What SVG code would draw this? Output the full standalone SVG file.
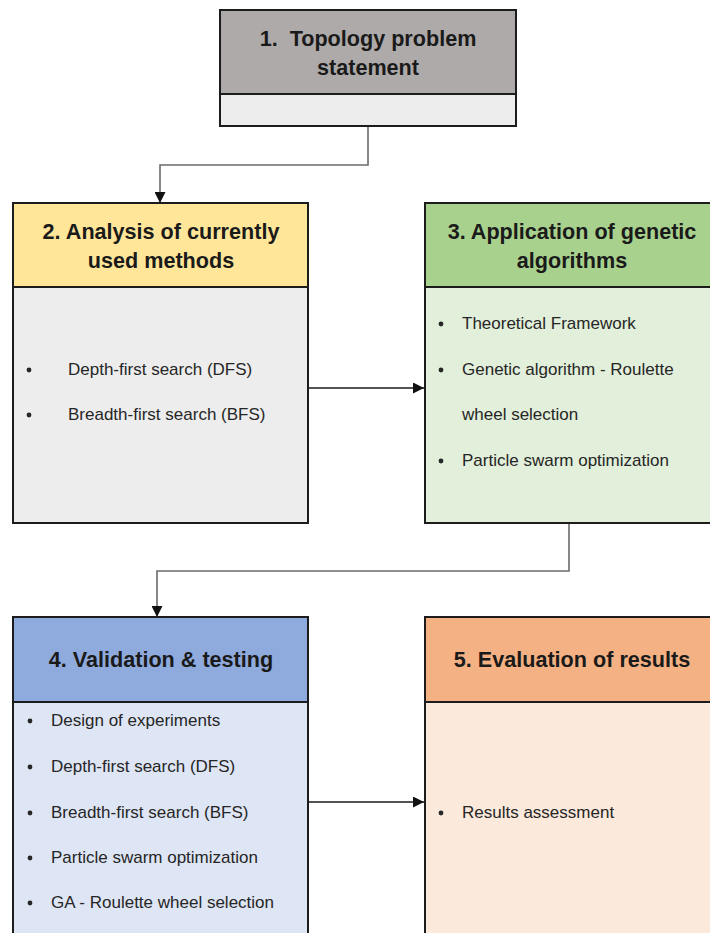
<svg xmlns="http://www.w3.org/2000/svg" width="710" height="933" viewBox="0 0 710 933">
  <defs>
    <style>
      .box { stroke: #1c1c1c; stroke-width: 2; }
      .title { font-family: "Liberation Sans", Arial, sans-serif; font-weight: bold; font-size: 21.6px; fill: #1a1a1a; text-anchor: middle; }
      .item { font-family: "Liberation Sans", Arial, sans-serif; font-size: 17px; fill: #262626; }
      .dot { fill: #262626; }
      .link { fill: none; stroke-width: 1.6; }
      .grey { stroke: #6b6b6b; }
      .dark { stroke: #1a1a1a; }
    </style>
    <marker id="arrow" viewBox="0 0 10 10" refX="10" refY="5" markerWidth="11" markerHeight="11" markerUnits="userSpaceOnUse" orient="auto">
      <path d="M0,0 L10,5 L0,10 Z" fill="#111"/>
    </marker>
  </defs>

  <rect width="710" height="933" fill="#ffffff"/>

  <!-- connectors -->
  <g id="connectors">
    <path class="link grey" d="M368,126 V165 H160 V203" marker-end="url(#arrow)"/>
    <path class="link dark" d="M308,388 H424" marker-end="url(#arrow)"/>
    <path class="link grey" d="M569,523 V571 H157 V617" marker-end="url(#arrow)"/>
    <path class="link dark" d="M308,802 H424" marker-end="url(#arrow)"/>
  </g>

  <!-- 1. problem statement -->
  <g id="node1">
    <rect class="box" x="220" y="10" width="296" height="84" fill="#AEAAAA"/>
    <rect class="box" x="220" y="94" width="296" height="32" fill="#EDEDED"/>
    <text class="title" x="368" y="46" xml:space="preserve">1.  Topology problem</text>
    <text class="title" x="368" y="75">statement</text>
  </g>

  <!-- 2. current methods -->
  <g id="node2">
    <rect class="box" x="13" y="203" width="295" height="84" fill="#FFE699"/>
    <rect class="box" x="13" y="287" width="295" height="236" fill="#EDEDED"/>
    <text class="title" x="161" y="239">2. Analysis of currently</text>
    <text class="title" x="161" y="268">used methods</text>
    <circle class="dot" cx="29" cy="370" r="2.4"/>
    <text class="item" x="68" y="375">Depth-first search (DFS)</text>
    <circle class="dot" cx="29" cy="415" r="2.4"/>
    <text class="item" x="68" y="420">Breadth-first search (BFS)</text>
  </g>

  <!-- 3. genetic algorithms -->
  <g id="node3">
    <rect class="box" x="425" y="203" width="296" height="84" fill="#A9D18E"/>
    <rect class="box" x="425" y="287" width="296" height="236" fill="#E2EFDA"/>
    <text class="title" x="572" y="239">3. Application of genetic</text>
    <text class="title" x="572" y="268">algorithms</text>
    <circle class="dot" cx="441" cy="324" r="2.4"/>
    <text class="item" x="462" y="329">Theoretical Framework</text>
    <circle class="dot" cx="441" cy="370" r="2.4"/>
    <text class="item" x="462" y="375">Genetic algorithm - Roulette</text>
    <text class="item" x="462" y="420">wheel selection</text>
    <circle class="dot" cx="441" cy="461" r="2.4"/>
    <text class="item" x="462" y="466">Particle swarm optimization</text>
  </g>

  <!-- 4. validation -->
  <g id="node4">
    <rect class="box" x="13" y="617" width="295" height="85" fill="#8FAADC"/>
    <rect class="box" x="13" y="702" width="295" height="250" fill="#DEE5F4"/>
    <text class="title" x="161" y="667">4. Validation &amp; testing</text>
    <circle class="dot" cx="30" cy="721" r="2.4"/>
    <text class="item" x="51" y="726">Design of experiments</text>
    <circle class="dot" cx="30" cy="767" r="2.4"/>
    <text class="item" x="51" y="772">Depth-first search (DFS)</text>
    <circle class="dot" cx="30" cy="813" r="2.4"/>
    <text class="item" x="51" y="818">Breadth-first search (BFS)</text>
    <circle class="dot" cx="30" cy="858" r="2.4"/>
    <text class="item" x="51" y="863">Particle swarm optimization</text>
    <circle class="dot" cx="30" cy="903" r="2.4"/>
    <text class="item" x="51" y="908">GA - Roulette wheel selection</text>
  </g>

  <!-- 5. evaluation -->
  <g id="node5">
    <rect class="box" x="425" y="617" width="296" height="85" fill="#F4B183"/>
    <rect class="box" x="425" y="702" width="296" height="250" fill="#FBE9DC"/>
    <text class="title" x="572" y="667">5. Evaluation of results</text>
    <circle class="dot" cx="441" cy="813" r="2.4"/>
    <text class="item" x="462" y="818">Results assessment</text>
  </g>
</svg>
